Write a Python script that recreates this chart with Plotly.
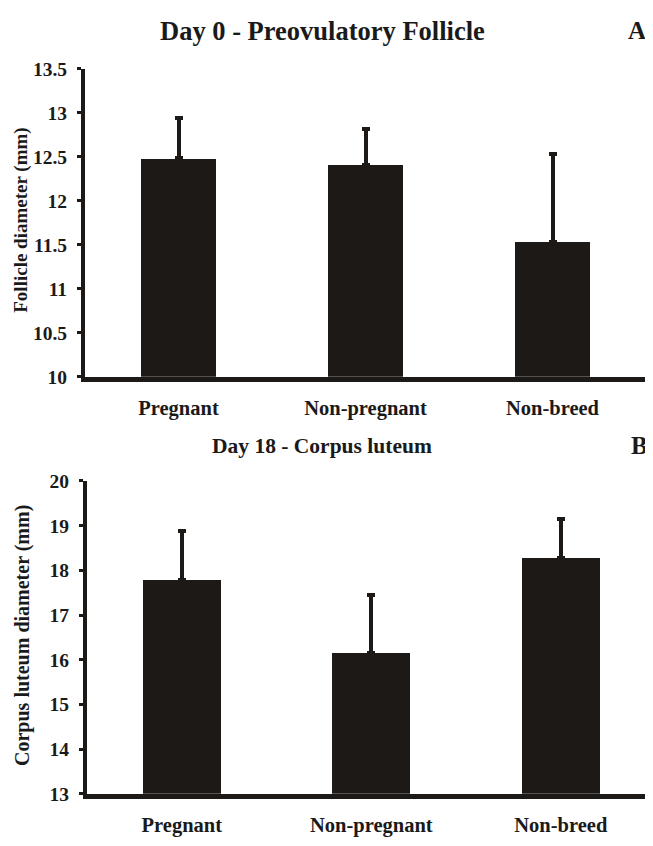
import plotly.graph_objects as go

categories = ["Pregnant", "Non-pregnant", "Non-breed"]

follicle_mean = [12.48, 12.41, 11.53]
follicle_err = [0.46, 0.40, 1.00]
follicle_ticks = [10, 10.5, 11, 11.5, 12, 12.5, 13, 13.5]
follicle_ticktext = ["10", "10.5", "11", "11.5", "12", "12.5", "13", "13.5"]

cl_mean = [17.79, 16.15, 18.28]
cl_err = [1.10, 1.31, 0.87]
cl_ticks = [13, 14, 15, 16, 17, 18, 19, 20]
cl_ticktext = ["13", "14", "15", "16", "17", "18", "19", "20"]

BAR = "#1c1916"
TXT = "#1a1a1a"
FONT = "Liberation Serif"
OFF = 8            # page body margin
W, H = 645, 830

def px_x(v):
    return (v - OFF) / W

def px_y(v):
    return 1 - (v - OFF) / H

fig = go.Figure()
fig.add_trace(go.Bar(
    x=list(range(3)), y=follicle_mean, width=0.40, marker=dict(color=BAR, line=dict(width=0)),
    error_y=dict(type="data", symmetric=False, array=follicle_err, arrayminus=[0, 0, 0],
                 color=BAR, thickness=4, width=4),
    xaxis="x", yaxis="y", showlegend=False))
fig.add_trace(go.Bar(
    x=list(range(3)), y=cl_mean, width=0.41, marker=dict(color=BAR, line=dict(width=0)),
    error_y=dict(type="data", symmetric=False, array=cl_err, arrayminus=[0, 0, 0],
                 color=BAR, thickness=4, width=4),
    xaxis="x2", yaxis="y2", showlegend=False))

tickfont = dict(family=FONT, size=19.5, color=TXT)
axfont = dict(family=FONT, size=20.5, color=TXT)

common_x = dict(tickvals=list(range(3)), ticktext=["<b>%s</b>" % c for c in categories],
                tickfont=axfont, showline=True, linewidth=5, linecolor=BAR,
                ticks="", showgrid=False, zeroline=False, ticklabelstandoff=9)
common_y = dict(tickfont=tickfont, showline=True, linewidth=4, linecolor=BAR,
                ticks="outside", ticklen=4, tickwidth=3, tickcolor=BAR,
                showgrid=False, zeroline=False, ticklabelstandoff=6)

fig.update_layout(
    width=W, height=H,
    margin=dict(l=0, r=0, t=0, b=0),
    paper_bgcolor="white", plot_bgcolor="white",
    font=dict(family=FONT),
    bargap=0,
    xaxis=dict(domain=[px_x(85), px_x(646)], range=[-0.5, 2.5], anchor="y", **common_x),
    yaxis=dict(domain=[px_y(376), px_y(60)], range=[10, 13.5], anchor="x",
               tickvals=follicle_ticks, ticktext=["<b>%s</b>" % t for t in follicle_ticktext],
               **common_y),
    xaxis2=dict(domain=[px_x(87), px_x(648)], range=[-0.5, 2.46], anchor="y2", **common_x),
    yaxis2=dict(domain=[px_y(804), px_y(483)], range=[13, 20], anchor="x2",
                tickvals=cl_ticks, ticktext=["<b>%s</b>" % t for t in cl_ticktext],
                **common_y),
)

ann = [
    dict(text="<b>Day 0 - Preovulatory Follicle</b>", x=322, y=21, size=26.5),
    dict(text="<b>A</b>", x=637, y=21, size=25),
    dict(text="<b>Day 18 - Corpus luteum</b>", x=322, y=447, size=21.5),
    dict(text="<b>B</b>", x=639, y=447, size=25),
]
for a in ann:
    fig.add_annotation(text=a["text"], x=px_x(a["x"]), y=px_y(a["y"]), xref="paper", yref="paper",
                       xanchor="center", yanchor="middle", showarrow=False,
                       font=dict(family=FONT, size=a["size"], color=TXT))

fig.add_annotation(text="<b>Follicle diameter (mm)</b>", x=px_x(21), y=px_y(216),
                   xref="paper", yref="paper", textangle=-90, showarrow=False,
                   xanchor="center", yanchor="middle",
                   font=dict(family=FONT, size=19, color=TXT))
fig.add_annotation(text="<b>Corpus luteum diameter (mm)</b>", x=px_x(23), y=px_y(642),
                   xref="paper", yref="paper", textangle=-90, showarrow=False,
                   xanchor="center", yanchor="middle",
                   font=dict(family=FONT, size=20, color=TXT))

fig.write_html("out.html")
